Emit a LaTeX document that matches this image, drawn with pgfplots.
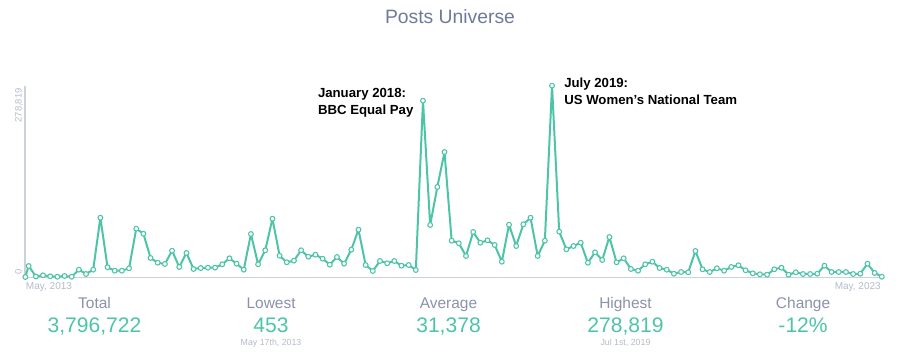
\documentclass[border=0pt]{standalone}
\usepackage{pgfplots}
\pgfplotsset{compat=1.18}
\usepackage{fontspec}
\setmainfont{Liberation Sans}
\definecolor{teal1}{HTML}{4DC4A8}
\definecolor{titlecol}{HTML}{6E7A9A}
\definecolor{labcol}{HTML}{8A92AC}
\definecolor{lightlab}{HTML}{B4BACB}
\definecolor{axisgray}{HTML}{CDD1DC}
\begin{document}
\begin{tikzpicture}
\path[use as bounding box] (0,0) rectangle (675pt,267.75pt);
\begin{axis}[at={(18.83pt,59.78pt)}, anchor=south west, scale only axis,
  width=643.6pt, height=143.7pt,
  xmin=0.5, xmax=120.2, ymin=0, ymax=278819,
  axis lines=left, axis line style={-, draw=axisgray, line width=1.1pt},
  xtick=\empty, ytick=\empty, clip=false]
\addplot[color=teal1, line width=1.5pt, line join=round, mark=*, mark size=1.8pt,
  mark options={fill=white, draw=teal1, line width=0.8pt}] coordinates {
(0.53,453) (1,16400) (2,1200) (3,2900) (4,1500) (5,800) (6,1900) (7,800)
(8,11100) (9,4800) (10,11100) (11,86700) (12,14600) (13,9600) (14,9600)
(15,13100) (16,70700) (17,63400) (18,28100) (19,21200) (20,19400) (21,38700)
(22,15000) (23,35400) (24,12100) (25,13500) (26,14000) (27,14000) (28,18900)
(29,27600) (30,19800) (31,11100) (32,63000) (33,18900) (34,39300) (35,85300)
(36,31400) (37,21800) (38,24200) (39,39300) (40,30000) (41,32900) (42,27100)
(43,18300) (44,29500) (45,19800) (46,40200) (47,69300) (48,17900) (49,9200)
(50,23700) (51,20400) (52,23700) (53,16900) (54,17900) (55,10600) (56,257000)
(57,76100) (58,131400) (59,182300) (60,53300) (61,49500) (62,31000) (63,65900)
(64,50300) (65,53800) (66,47000) (67,22700) (68,76500) (69,45500) (70,77100)
(71,86700) (72,31000) (73,53300) (74,278819) (75,66400) (76,40700) (77,45500)
(78,50300) (79,21200) (80,36400) (81,25200) (82,58600) (83,21800) (84,27600)
(85,12100) (86,9600) (87,18900) (88,22700) (89,13500) (90,11100) (91,5200)
(92,7700) (93,7300) (94,38300) (95,11600) (96,7700) (97,13100) (98,9600)
(99,15000) (100,17500) (101,10200) (102,5800) (103,4400) (104,3800) (105,11600)
(106,14000) (107,3800) (108,7300) (109,4800) (110,4800) (111,5200) (112,16900)
(113,7700) (114,7700) (115,7700) (116,4800) (117,5200) (118,19800) (119,6300)
(120,800)
};
\end{axis}
% title
\node[anchor=base, inner sep=0, text=titlecol, font=\fontsize{14.5}{17}\selectfont] at (337.5pt,250.3pt) {Posts Universe};
% annotations (anchor at baseline of last line)
\node[anchor=base west, inner sep=0, align=left, font=\fontsize{9.9}{12.75}\selectfont\bfseries] at (238.3pt,181.75pt) {January 2018:\\BBC Equal Pay};
\node[anchor=base west, inner sep=0, align=left, font=\fontsize{9.9}{12.75}\selectfont\bfseries] at (423pt,189.35pt) {July 2019:\\US Women’s National Team};
% y labels
\node[rotate=90, anchor=base west, inner sep=0, text=lightlab, font=\fontsize{7}{8}\selectfont] at (16.3pt,61.5pt) {0};
\node[rotate=90, anchor=base east, inner sep=0, text=lightlab, font=\fontsize{7}{8}\selectfont] at (16.3pt,201.5pt) {278,819};
% x labels
\node[anchor=base west, inner sep=0, text=lightlab, font=\fontsize{7.5}{9}\selectfont] at (19.3pt,50.8pt) {May, 2013};
\node[anchor=base east, inner sep=0, text=lightlab, font=\fontsize{7.5}{9}\selectfont] at (660.75pt,50.8pt) {May, 2023};
% stats
\foreach \cx/\lab/\val in {70.9/Total/{3,796,722}, 203.3/Lowest/453, 336.4/Average/{31,378}, 469.1/Highest/{278,819}, 602.3/Change/{-12\%}} {
  \node[anchor=base, inner sep=0, text=labcol, font=\fontsize{11.6}{14}\selectfont] at (\cx pt,36.5pt) {\lab};
  \node[anchor=base, inner sep=0, text=teal1, font=\fontsize{15.8}{18}\selectfont] at (\cx pt,18.5pt) {\val};
}
\node[anchor=base, inner sep=0, text=lightlab, font=\fontsize{6.6}{8}\selectfont] at (203.3pt,8.8pt) {May 17th, 2013};
\node[anchor=base, inner sep=0, text=lightlab, font=\fontsize{6.6}{8}\selectfont] at (469.1pt,8.8pt) {Jul 1st, 2019};
\end{tikzpicture}
\end{document}
